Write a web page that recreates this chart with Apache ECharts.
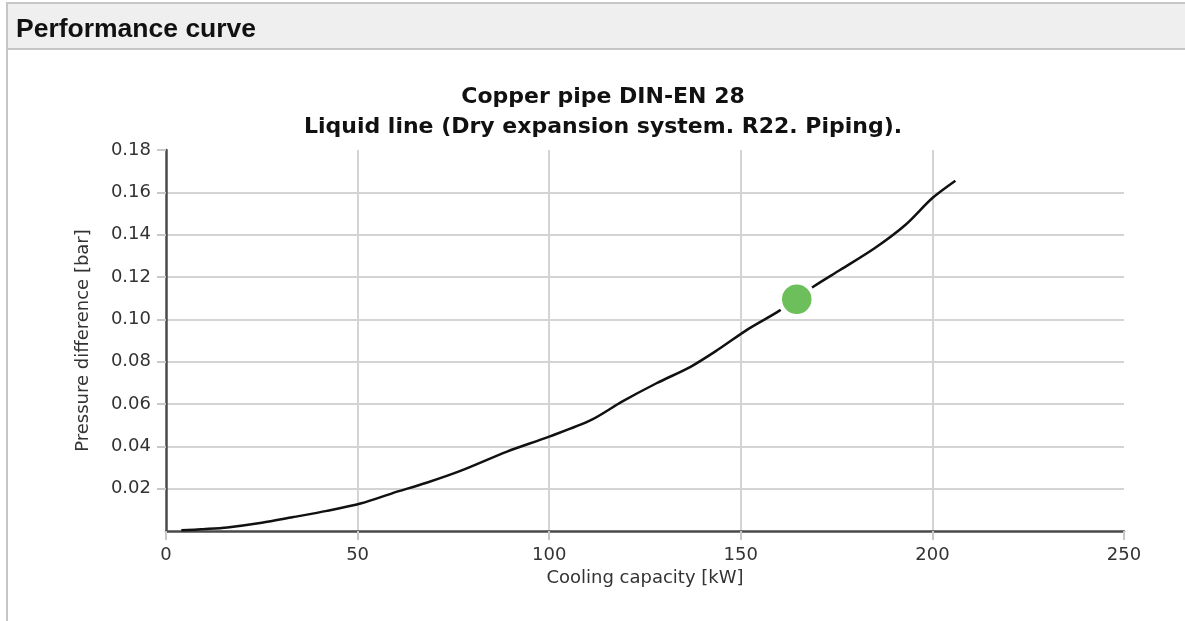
<!DOCTYPE html>
<html>
<head>
<meta charset="utf-8">
<title>Performance curve</title>
<script src="https://cdn.jsdelivr.net/npm/echarts@6/dist/echarts.min.js"></script>
<style>
  html, body { margin: 0; padding: 0; background: #fff; }
  #chart { width: 1185px; height: 621px; }
</style>
</head>
<body>
<div id="chart"></div>
<script>
// curve: cooling capacity [kW] vs pressure difference [bar]
const capacity = [4, 10, 16, 25, 33, 42, 51, 59, 68, 77, 89, 100, 111, 119, 128, 137, 144, 152, 160, 169, 176, 185, 193, 200, 206]
const pressure = [0.0003, 0.0009, 0.0017, 0.0039, 0.0065, 0.0095, 0.0131, 0.0178, 0.0228, 0.0285, 0.0375, 0.0446, 0.0525, 0.0611, 0.0698, 0.0777, 0.0856, 0.0955, 0.1040, 0.1155, 0.1234, 0.1337, 0.1447, 0.1573, 0.1655]
// operating point
const pointCapacity = [164.6]
const pointPressure = [0.1095]

const titleLines = ['Copper pipe DIN-EN 28', 'Liquid line (Dry expansion system. R22. Piping).']
const xName = 'Cooling capacity [kW]'
const yName = 'Pressure difference [bar]'

const curveData = capacity.map((c, i) => [c, pressure[i]])
const pointData = pointCapacity.map((c, i) => [c, pointPressure[i]])

const font = 'DejaVu Sans'
const chart = echarts.init(document.getElementById('chart'))

const option = {
  animation: false,
  backgroundColor: '#fff',
  graphic: [
    // panel header
    {
      type: 'rect',
      shape: { x: 7, y: 3, width: 1190, height: 46 },
      style: { fill: '#efefef', stroke: '#c6c6c6', lineWidth: 2 }
    },
    {
      type: 'line',
      shape: { x1: 7, y1: 49, x2: 7, y2: 621 },
      style: { stroke: '#c6c6c6', lineWidth: 2 }
    },
    {
      type: 'text',
      x: 16, y: 30,
      style: {
        text: 'Performance curve',
        font: 'bold 26.5px "Liberation Sans", Arial, sans-serif',
        fill: '#111',
        verticalAlign: 'middle'
      }
    },
    {
      type: 'text',
      x: 603, y: 97,
      style: {
        text: titleLines[0],
        font: 'bold 22px "DejaVu Sans", sans-serif',
        fill: '#111',
        align: 'center',
        verticalAlign: 'middle'
      }
    },
    {
      type: 'text',
      x: 603, y: 127,
      style: {
        text: titleLines[1],
        font: 'bold 22px "DejaVu Sans", sans-serif',
        fill: '#111',
        align: 'center',
        verticalAlign: 'middle'
      }
    }
  ],
  grid: {
    left: 166,
    right: 61,
    top: 150,
    bottom: 90
  },
  xAxis: {
    type: 'value',
    min: 0,
    max: 250,
    interval: 50,
    name: xName,
    nameLocation: 'middle',
    nameGap: 38,
    nameTextStyle: { fontFamily: font, fontSize: 18, color: '#333' },
    axisLine: { show: true, lineStyle: { color: '#4a4a4a', width: 2.5 } },
    axisTick: { show: true, length: 9, lineStyle: { color: '#c8c8c8', width: 2 } },
    axisLabel: { fontFamily: font, fontSize: 18, color: '#333', margin: 15 },
    splitLine: {
      show: true,
      showMinLine: false,
      showMaxLine: false,
      lineStyle: { color: '#d4d4d4', width: 2 }
    }
  },
  yAxis: {
    type: 'value',
    min: 0,
    max: 0.18,
    interval: 0.02,
    name: yName,
    nameLocation: 'middle',
    nameGap: 74,
    nameTextStyle: { fontFamily: font, fontSize: 18, color: '#333' },
    axisLine: { show: true, lineStyle: { color: '#4a4a4a', width: 2.5 } },
    axisTick: { show: true, length: 9, lineStyle: { color: '#c8c8c8', width: 2 } },
    axisLabel: {
      fontFamily: font,
      fontSize: 18,
      color: '#333',
      margin: 15,
      showMinLabel: false,
      formatter: v => v.toFixed(2)
    },
    splitLine: {
      show: true,
      showMinLine: false,
      showMaxLine: false,
      lineStyle: { color: '#d4d4d4', width: 2 }
    }
  },
  series: [
    {
      type: 'line',
      data: curveData,
      showSymbol: false,
      symbol: 'none',
      smooth: 0.3,
      lineStyle: { color: '#111', width: 2.5 },
      z: 2
    },
    {
      type: 'scatter',
      data: pointData,
      symbol: 'circle',
      symbolSize: 34,
      itemStyle: { color: '#6cbf5a', opacity: 1, borderColor: '#fff', borderWidth: 4.5 },
      z: 3
    }
  ]
}

chart.setOption(option)
</script>
</body>
</html>
